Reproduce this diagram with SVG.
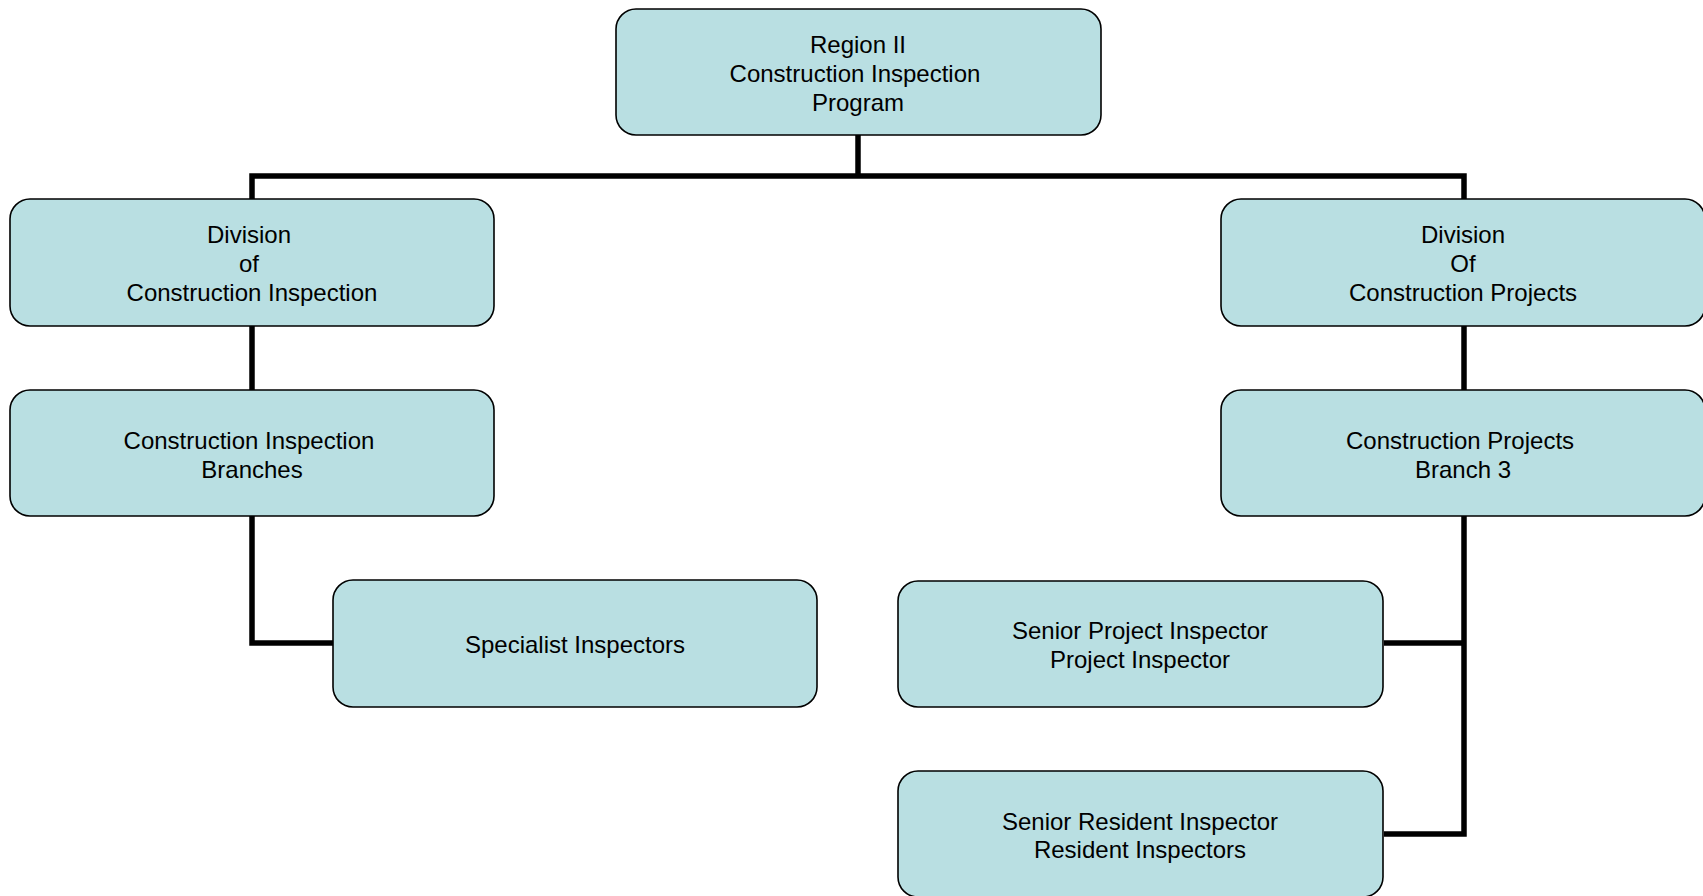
<svg xmlns="http://www.w3.org/2000/svg" width="1703" height="896" viewBox="0 0 1703 896">
<style>
.box{fill:#b9dfe2;stroke:#000;stroke-width:1.6}
.t{font-family:"Liberation Sans",Arial,sans-serif;font-size:24px;fill:#000;text-anchor:middle}
.c{fill:none;stroke:#000;stroke-width:5.5;stroke-linejoin:miter}
</style>
<rect width="1703" height="896" fill="#fff"/>
<g id="connectors">
<path class="c" d="M858,135 V176"/>
<path class="c" d="M252,199 V176 H1464 V199"/>
<path class="c" d="M252,326 V390"/>
<path class="c" d="M1464,326 V390"/>
<path class="c" d="M252,516 V643 H333"/>
<path class="c" d="M1464,516 V834 H1384"/>
<path class="c" d="M1384,643 H1464"/>
</g>
<g id="region">
<rect class="box" x="616" y="9" width="485" height="126" rx="20"/>
<text class="t" x="858" y="53">Region II</text>
<text class="t" x="855" y="82">Construction Inspection</text>
<text class="t" x="858" y="111">Program</text>
</g>
<g id="div-inspection">
<rect class="box" x="10" y="199" width="484" height="127" rx="20"/>
<text class="t" x="249" y="243">Division</text>
<text class="t" x="249" y="272">of</text>
<text class="t" x="252" y="301">Construction Inspection</text>
</g>
<g id="div-projects">
<rect class="box" x="1221" y="199" width="484" height="127" rx="20"/>
<text class="t" x="1463" y="243">Division</text>
<text class="t" x="1463" y="272">Of</text>
<text class="t" x="1463" y="301">Construction Projects</text>
</g>
<g id="ci-branches">
<rect class="box" x="10" y="390" width="484" height="126" rx="20"/>
<text class="t" x="249" y="449">Construction Inspection</text>
<text class="t" x="252" y="478">Branches</text>
</g>
<g id="cp-branch3">
<rect class="box" x="1221" y="390" width="484" height="126" rx="20"/>
<text class="t" x="1460" y="449">Construction Projects</text>
<text class="t" x="1463" y="478">Branch 3</text>
</g>
<g id="specialist">
<rect class="box" x="333" y="580" width="484" height="127" rx="20"/>
<text class="t" x="575" y="653">Specialist Inspectors</text>
</g>
<g id="senior-project">
<rect class="box" x="898" y="581" width="485" height="126" rx="20"/>
<text class="t" x="1140" y="639">Senior Project Inspector</text>
<text class="t" x="1140" y="668">Project Inspector</text>
</g>
<g id="senior-resident">
<rect class="box" x="898" y="771" width="485" height="126" rx="20"/>
<text class="t" x="1140" y="830">Senior Resident Inspector</text>
<text class="t" x="1140" y="858">Resident Inspectors</text>
</g>
</svg>
